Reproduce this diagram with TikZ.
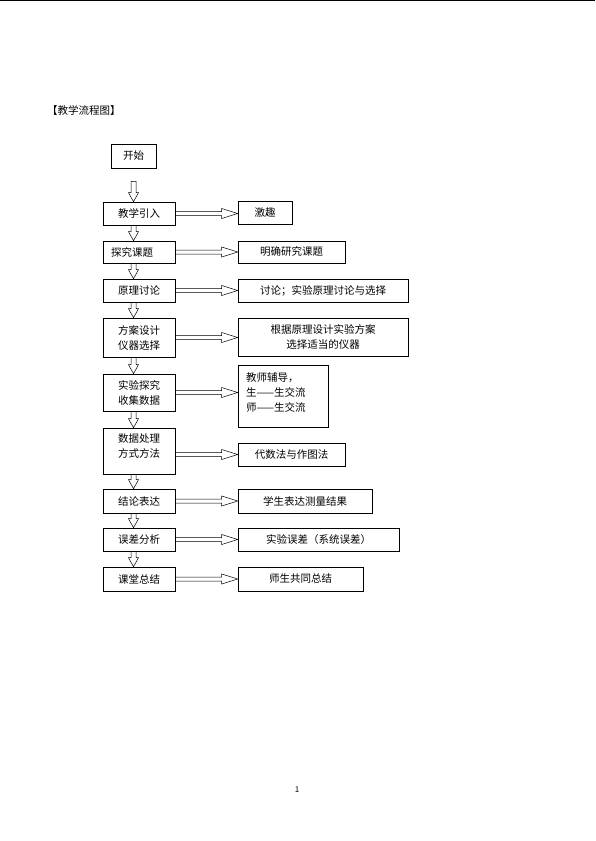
\documentclass[tikz,border=0pt]{standalone}
\usepackage{fontspec}
\setmainfont{Noto Sans CJK SC}
\usetikzlibrary{calc}
\tikzset{
  box/.style={draw, line width=0.6pt, inner sep=0pt, font=\fontsize{10.5}{15}\selectfont},
  lbox/.style={box, minimum width=72},
  blk/.style={draw, line width=0.5pt},
  txt/.style={inner sep=0pt, font=\fontsize{10.5}{15}\selectfont}
}
\newcommand\myharrow[3]{%
  \draw[blk] let \p1=(#1.east), \p2=(#2.west), \p3=(#3) in
    (\x1,\y3+2pt) -- (\x2-16pt,\y3+2pt) -- (\x2-16pt,\y3+5pt) -- (\x2,\y3)
    -- (\x2-16pt,\y3-5pt) -- (\x2-16pt,\y3-2pt) -- (\x1,\y3-2pt) -- cycle;}
\newcommand\myvarrow[3]{%
  \draw[blk] let \p0=(start.center), \p1=(#1.south), \p2=(#2.north) in
    (\x0-2.5pt,\y1-#3) -- (\x0-2.5pt,\y2+9pt) -- (\x0-5pt,\y2+9pt) -- (\x0,\y2)
    -- (\x0+5pt,\y2+9pt) -- (\x0+2.5pt,\y2+9pt) -- (\x0+2.5pt,\y1-#3) -- cycle;}
\begin{document}
\begin{tikzpicture}[x=1pt,y=-1pt]
\useasboundingbox (0,0) rectangle (595,841);
\fill[white] (0,0) rectangle (595,841);
\draw[line width=1.2pt] (0,0.6) -- (595,0.6);

\node[txt, anchor=west] (title) at (47,110) {【教学流程图】};

\node[box, minimum width=45, minimum height=24] (start) at (133.5,156) {开始};

\node[lbox, minimum height=23] (l1) at (139,213.5) {教学引入};
\node[lbox, minimum height=22] (l2) at (139,252) {探究课题\kern14pt};
\node[lbox, minimum height=23] (l3) at (139,290.5) {原理讨论};
\node[lbox, minimum height=39, align=center] (l4) at (139,337.5) {方案设计\\仪器选择};
\node[lbox, minimum height=37, align=center] (l5) at (139,392.5) {实验探究\\收集数据};
\node[lbox, minimum height=46, align=center] (l6) at (139,451) {数据处理\\方式方法\\[-5pt]\mbox{}};
\node[lbox, minimum height=24] (l7) at (139,501) {结论表达};
\node[lbox, minimum height=23] (l8) at (139,539.5) {误差分析};
\node[lbox, minimum height=24] (l9) at (139,579) {课堂总结};

\node[box, minimum width=54, minimum height=23] (r1) at (265,212.5) {激趣};
\node[box, minimum width=107, minimum height=22] (r2) at (291.5,252) {明确研究课题};
\node[box, minimum width=170, minimum height=23] (r3) at (323,290.5) {讨论；实验原理讨论与选择};
\node[box, minimum width=170, minimum height=38, align=center] (r4) at (323,337) {根据原理设计实验方案\\选择适当的仪器};
\node[box, minimum height=62, text width=74, inner xsep=8pt, align=left] (r5) at (283,396) {教师辅导，\\生——生交流\\师——生交流\\[-7pt]\mbox{}};
\node[box, minimum width=107, minimum height=23] (r6) at (291.5,454.5) {代数法与作图法};
\node[box, minimum width=134, minimum height=24] (r7) at (305,501) {学生表达测量结果};
\node[box, minimum width=161, minimum height=23] (r8) at (318.5,539.5) {实验误差（系统误差）};
\node[box, minimum width=125, minimum height=24] (r9) at (300.5,579) {师生共同总结};

\myvarrow{start}{l1}{13pt}
\myvarrow{l1}{l2}{0pt}
\myvarrow{l2}{l3}{0pt}
\myvarrow{l3}{l4}{0pt}
\myvarrow{l4}{l5}{0pt}
\myvarrow{l5}{l6}{0pt}
\myvarrow{l6}{l7}{0pt}
\myvarrow{l7}{l8}{0pt}
\myvarrow{l8}{l9}{0pt}

\myharrow{l1}{r1}{l1.east}
\myharrow{l2}{r2}{l2.east}
\myharrow{l3}{r3}{l3.east}
\myharrow{l4}{r4}{l4.east}
\myharrow{l5}{r5}{l5.east}
\myharrow{l6}{r6}{r6.west}
\myharrow{l7}{r7}{l7.east}
\myharrow{l8}{r8}{l8.east}
\myharrow{l9}{r9}{l9.east}

\node[inner sep=0pt, font=\fontsize{8}{8}\selectfont] (pg) at (297,790) {1};
\end{tikzpicture}
\end{document}
